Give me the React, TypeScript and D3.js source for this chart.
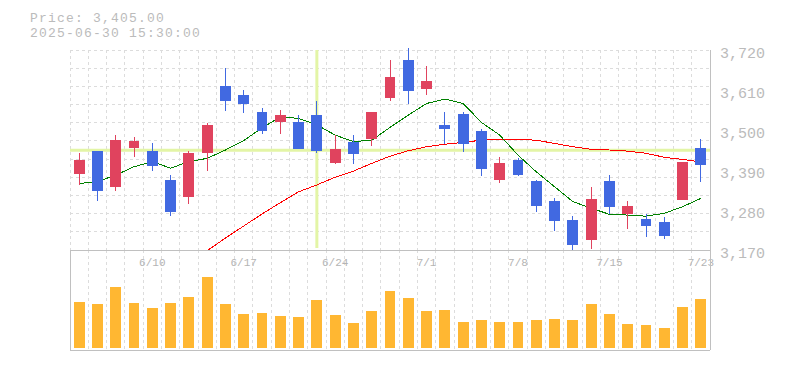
import React from 'react';
import * as d3 from 'd3';

// trading days shown (2025)
const dates = [
  '6/4', '6/5', '6/6', '6/9', '6/10', '6/11', '6/12', '6/13', '6/16', '6/17',
  '6/18', '6/19', '6/20', '6/23', '6/24', '6/25', '6/26', '6/27', '6/30', '7/1',
  '7/2', '7/3', '7/4', '7/7', '7/8', '7/9', '7/10', '7/11', '7/14', '7/15',
  '7/16', '7/17', '7/18', '7/22', '7/23',
];
const tickDates = ['6/10', '6/17', '6/24', '7/1', '7/8', '7/15', '7/23'];

const openP = [3379, 3442, 3344, 3451, 3442, 3362, 3317, 3438, 3621, 3596, 3550, 3523, 3523, 3541, 3410, 3467, 3474, 3589, 3692, 3614, 3514, 3544, 3498, 3363, 3418, 3360, 3305, 3253, 3198, 3360, 3270, 3255, 3247, 3308, 3451];
const closeP = [3418, 3333, 3473, 3470, 3402, 3275, 3438, 3514, 3581, 3571, 3498, 3541, 3449, 3442, 3448, 3435, 3550, 3646, 3608, 3635, 3504, 3462, 3394, 3409, 3377, 3292, 3251, 3185, 3310, 3289, 3292, 3237, 3209, 3412, 3405];
const highP = [3438, 3442, 3486, 3482, 3465, 3376, 3442, 3520, 3670, 3610, 3560, 3555, 3541, 3580, 3486, 3486, 3550, 3693, 3725, 3676, 3550, 3550, 3502, 3426, 3422, 3363, 3312, 3264, 3344, 3376, 3305, 3269, 3262, 3412, 3475];
const lowP = [3349, 3305, 3333, 3427, 3388, 3264, 3297, 3388, 3553, 3546, 3489, 3489, 3448, 3436, 3406, 3407, 3456, 3580, 3572, 3597, 3462, 3440, 3374, 3355, 3374, 3275, 3222, 3170, 3174, 3269, 3228, 3207, 3201, 3308, 3358];

// moving averages
const ma5 = [3353, 3358, 3376, 3399, 3413, 3395, 3413, 3422, 3445, 3471, 3506, 3536, 3532, 3514, 3486, 3468, 3472, 3507, 3541, 3573, 3585, 3573, 3521, 3486, 3431, 3385, 3344, 3303, 3285, 3268, 3266, 3263, 3271, 3289, 3312];
const ma25: (number | null)[] = [null, null, null, null, null, null, null, 3168, 3203, 3236, 3269, 3300, 3330, 3349, 3370, 3387, 3408, 3428, 3443, 3454, 3461, 3466, 3472, 3474, 3474, 3472, 3463, 3454, 3447, 3445, 3442, 3436, 3425, 3419, 3412];

// volume (thousand shares)
const volume = [460, 440, 610, 450, 400, 450, 510, 710, 440, 340, 350, 320, 310, 480, 330, 250, 370, 570, 500, 370, 380, 260, 280, 260, 260, 280, 290, 280, 440, 340, 240, 230, 200, 410, 490];

const priceTicks = [3170, 3280, 3390, 3500, 3610, 3720];
const crossDate = '6/23';
const crossPrice = 3444;

const W = 785;
const H = 370;
const left = 70;
const right = 710;
const priceTop = 50;
const priceBottom = 250;
const volTop = 250;
const volBottom = 350;

const UP = '#e0435e';
const DOWN = '#4169e1';
const FONT = '"Liberation Mono", monospace';

export default function App() {
  const x = d3.scaleBand<string>().domain(dates).range([left, right]).padding(0);
  const step = x.step();
  const cx = (d: string) => (x(d) as number) + step / 2;
  const y = d3.scaleLinear().domain([3170, 3720]).range([priceBottom, priceTop]);
  const yv = d3.scaleLinear().domain([0, 980]).range([volBottom - 2, volTop]);

  const gridY = d3.range(3170, 3721, 50);
  const bodyW = step * 0.6;

  const line5 = d3.line<number>().x((_, i) => cx(dates[i])).y(d => y(d));
  const line25 = d3
    .line<number | null>()
    .defined(d => d !== null)
    .x((_, i) => cx(dates[i]))
    .y(d => y(d as number));

  const boundaries = d3.range(0, dates.length).map(i => x(dates[i]) as number);

  return (
    <div style={{ position: 'absolute', left: 0, top: 0 }}>
      <svg width={W} height={H} style={{ display: 'block', background: '#fff' }}>
        <defs>
          <clipPath id="priceClip">
            <rect x={left} y={priceTop - 3} width={right - left} height={priceBottom - priceTop + 3} />
          </clipPath>
        </defs>

        <text x={30} y={22} fontFamily={FONT} fontSize={13} letterSpacing={1.2} fill="#bbb">Price: 3,405.00</text>
        <text x={30} y={37} fontFamily={FONT} fontSize={13} letterSpacing={1.2} fill="#bbb">2025-06-30 15:30:00</text>

        {/* price grid */}
        <g stroke="#dcdcdc" strokeDasharray="3,3" shapeRendering="crispEdges">
          {gridY.map(v => (
            <line key={'h' + v} x1={left} x2={right} y1={y(v)} y2={y(v)} />
          ))}
          {boundaries.map((bx, i) => (
            <line key={'v' + i} x1={bx} x2={bx} y1={priceTop} y2={priceBottom} />
          ))}
          {boundaries.map((bx, i) => (
            <line key={'vv' + i} x1={bx} x2={bx} y1={volTop} y2={volBottom} />
          ))}
        </g>

        {/* date labels */}
        {tickDates.map(d => (
          <text key={d} x={cx(d)} y={266} textAnchor="middle" fontFamily={FONT} fontSize={11} fill="#b4b4b4">
            {d}
          </text>
        ))}

        {/* crosshair */}
        <g stroke="#e3f5a6" strokeWidth={3}>
          <line x1={left} x2={right} y1={y(crossPrice)} y2={y(crossPrice)} />
          <line x1={cx(crossDate)} x2={cx(crossDate)} y1={priceTop} y2={priceBottom - 2} />
        </g>

        {/* moving averages */}
        <g clipPath="url(#priceClip)" fill="none" strokeWidth={1} shapeRendering="crispEdges">
          <path d={line25(ma25) || ''} stroke="#ff0000" />
          <path d={line5(ma5) || ''} stroke="#008000" />
        </g>

        {/* candles */}
        <g shapeRendering="crispEdges">
          {dates.map((d, i) => {
            const up = closeP[i] >= openP[i];
            const col = up ? UP : DOWN;
            const top = y(Math.max(openP[i], closeP[i]));
            const bot = y(Math.min(openP[i], closeP[i]));
            return (
              <g key={d}>
                <line x1={cx(d)} x2={cx(d)} y1={y(highP[i])} y2={y(lowP[i])} stroke={col} strokeWidth={1} />
                <rect x={cx(d) - bodyW / 2} y={top} width={bodyW} height={Math.max(1, bot - top)} fill={col} />
              </g>
            );
          })}
        </g>

        {/* volume bars */}
        <g shapeRendering="crispEdges">
          {dates.map((d, i) => (
            <rect
              key={d}
              x={cx(d) - bodyW / 2}
              y={yv(volume[i])}
              width={bodyW}
              height={yv(0) - yv(volume[i])}
              fill="#ffb732"
            />
          ))}
        </g>

        {/* borders */}
        <g stroke="#c0c0c0" strokeWidth={1} fill="none" shapeRendering="crispEdges">
          <line x1={right} x2={right} y1={priceTop} y2={volBottom} />
          <line x1={left} x2={right} y1={priceBottom} y2={priceBottom} />
          <line x1={left} x2={right} y1={volBottom} y2={volBottom} />
          <line x1={left} x2={left} y1={volTop} y2={volBottom} />
        </g>

        {/* price axis labels */}
        {priceTicks.map(v => (
          <text key={v} x={720} y={y(v) + 8} fontFamily={FONT} fontSize={15} fill="#bbb">
            {d3.format(',')(v)}
          </text>
        ))}
      </svg>
    </div>
  );
}
